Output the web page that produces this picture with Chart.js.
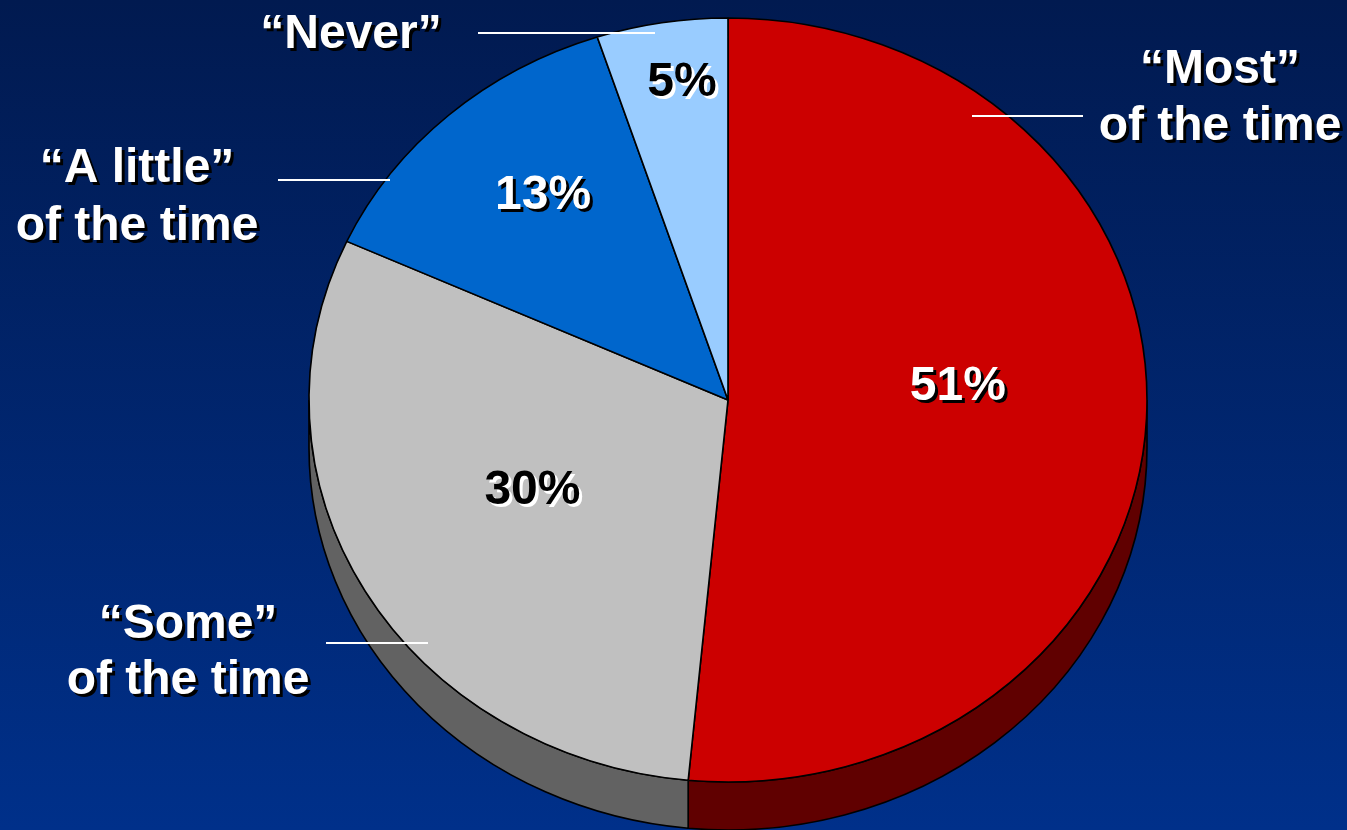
<!DOCTYPE html>
<html>
<head>
<meta charset="utf-8">
<script src="https://cdn.jsdelivr.net/npm/chart.js@4"></script>
<style>
    html, body { margin: 0; padding: 0; }
    body { width: 1347px; height: 830px; overflow: hidden;
           background: linear-gradient(to bottom, #011a50 0%, #00308a 100%); }
    canvas { display: block; }
</style>
</head>
<body>
<canvas id="pie" width="1347" height="830"></canvas>
<script>
// Chart data
const categories = ["Most of the time", "Some of the time", "A little of the time", "Never"];
const values = [51, 30, 13, 5];
const sliceColors = ["#cc0000", "#c0c0c0", "#0066cc", "#99ccff"];
const sideColors = ["#600000", "#626262", "#003366", "#4c6680"];
const percentColors = ["#ffffff", "#000000", "#ffffff", "#000000"];

// Outside labels (two lines each) with leader lines
const outsideLabels = [
    { lines: ["\u201cMost\u201d", "of the time"], x: 1220, y: [67, 124], line: [972, 1083, 116] },
    { lines: ["\u201cSome\u201d", "of the time"], x: 188, y: [622, 678], line: [326, 428, 643] },
    { lines: ["\u201cA little\u201d", "of the time"], x: 137, y: [166, 224], line: [278, 390, 180] },
    { lines: ["\u201cNever\u201d"], x: 351, y: [32], line: [478, 655, 33] }
];

// where each percent label sits: fraction of radius, and turn from slice middle
const percentRadius = [0.55, 0.52, 0.70, 0.845];
const percentTurn = [-0.124, 0.067, 0.048, 0.028];

const stretchX = 419 / 382;  // pie is drawn a bit wider than tall
const depth = 48;            // thickness of the 3D edge
const textDrop = 3;          // 'middle' baseline sits a little high for this font
const font = "bold 48px 'Liberation Sans', Arial, sans-serif";

function shadowText(ctx, text, x, y, color) {
    y += textDrop;
    ctx.fillStyle = color === "#000000" ? "#ffffff" : "#000000";
    ctx.fillText(text, x + 3, y + 3);
    ctx.fillStyle = color;
    ctx.fillText(text, x, y);
}

const tiltPlugin = {
    id: "tilt3d",
    beforeDatasetsDraw(chart) {
        const ctx = chart.ctx;
        const arcs = chart.getDatasetMeta(0).data;
        const cx = arcs[0].x, cy = arcs[0].y;
        ctx.save();
        ctx.translate(cx, cy);
        ctx.scale(stretchX, 1);
        ctx.translate(-cx, -cy);
        // side walls, only the front (lower) half is visible
        arcs.forEach((arc, i) => {
            const s = Math.max(arc.startAngle, 0);
            const e = Math.min(arc.endAngle, Math.PI);
            if (s >= e) return;
            const r = arc.outerRadius;
            ctx.beginPath();
            ctx.arc(cx, cy, r, s, e);
            ctx.arc(cx, cy + depth, r, e, s, true);
            ctx.closePath();
            ctx.fillStyle = sideColors[i];
            ctx.fill();
            ctx.lineWidth = 1.5;
            ctx.strokeStyle = "#000";
            ctx.stroke();
        });
    },
    afterDatasetsDraw(chart) {
        const ctx = chart.ctx;
        ctx.restore();

        const arcs = chart.getDatasetMeta(0).data;
        const cx = arcs[0].x, cy = arcs[0].y;

        // leader lines
        ctx.save();
        ctx.strokeStyle = "#ffffff";
        ctx.lineWidth = 2;
        outsideLabels.forEach(l => {
            ctx.beginPath();
            ctx.moveTo(l.line[0], l.line[2]);
            ctx.lineTo(l.line[1], l.line[2]);
            ctx.stroke();
        });

        ctx.font = font;
        ctx.textAlign = "center";
        ctx.textBaseline = "middle";

        // percentages inside slices
        arcs.forEach((arc, i) => {
            const mid = (arc.startAngle + arc.endAngle) / 2 + percentTurn[i];
            const r = arc.outerRadius * percentRadius[i];
            const x = cx + Math.cos(mid) * r * stretchX;
            const y = cy + Math.sin(mid) * r;
            shadowText(ctx, values[i] + "%", x, y, percentColors[i]);
        });

        // category labels
        outsideLabels.forEach(l => {
            l.lines.forEach((t, k) => shadowText(ctx, t, l.x, l.y[k], "#ffffff"));
        });
        ctx.restore();
    }
};

new Chart(document.getElementById("pie"), {
    type: "pie",
    data: {
        labels: categories,
        datasets: [{
            data: values,
            backgroundColor: sliceColors,
            borderColor: "#000000",
            borderWidth: 1.5
        }]
    },
    options: {
        responsive: false,
        animation: false,
        radius: 382,
        layout: { padding: { left: 109, right: 0, top: 0, bottom: 30 } },
        plugins: {
            legend: { display: false },
            tooltip: { enabled: false }
        }
    },
    plugins: [tiltPlugin]
});
</script>
</body>
</html>
